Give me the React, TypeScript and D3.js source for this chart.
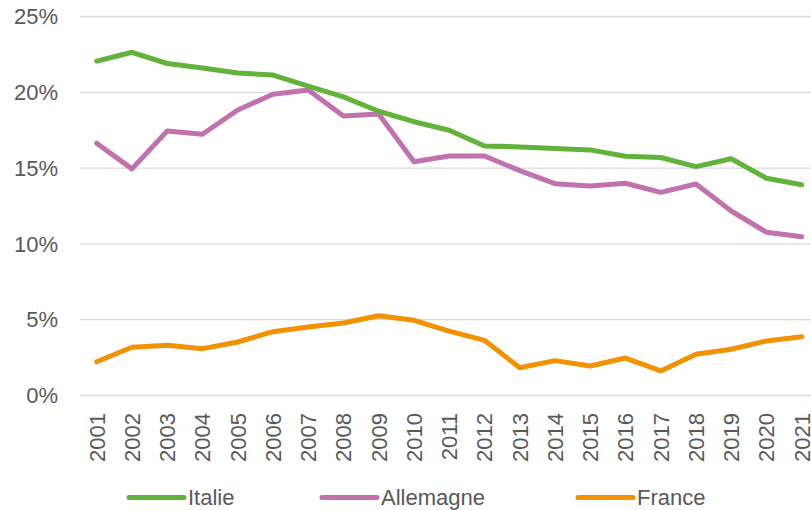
import * as d3 from 'd3';
import React, { useRef, useEffect } from 'react';

// years on the category axis
const years = [
    '2001', '2002', '2003', '2004', '2005', '2006', '2007', '2008', '2009', '2010', '2011',
    '2012', '2013', '2014', '2015', '2016', '2017', '2018', '2019', '2020', '2021'
];

// shares in percent
const italie = [
    22.06, 22.64, 21.9, 21.6, 21.27, 21.14, 20.4, 19.7, 18.75, 18.06, 17.5,
    16.46, 16.4, 16.3, 16.2, 15.78, 15.7, 15.1, 15.62, 14.33, 13.9
];
const allemagne = [
    16.64, 14.95, 17.45, 17.23, 18.83, 19.87, 20.15, 18.44, 18.57, 15.42, 15.8,
    15.8, 14.83, 13.97, 13.82, 14.0, 13.4, 13.95, 12.17, 10.77, 10.47
];
const france = [
    2.23, 3.18, 3.31, 3.09, 3.53, 4.21, 4.52, 4.78, 5.26, 4.96, 4.25,
    3.64, 1.83, 2.3, 1.95, 2.47, 1.62, 2.72, 3.05, 3.6, 3.88
];

const yTicks = [0, 5, 10, 15, 20, 25];

const seriesNames = ['Italie', 'Allemagne', 'France'];
const seriesColors = ['#62B33A', '#C071AE', '#F39200'];

const App = () => {
    const svgRef = useRef<SVGSVGElement>(null);

    useEffect(() => {
        const font = '"Liberation Sans", Arial, sans-serif';
        const textColor = '#595959';

        const svg = d3.select(svgRef.current);
        svg.selectAll('*').remove();

        const x = d3.scalePoint<string>()
            .domain(years)
            .range([96.7, 801.7]);

        const y = d3.scaleLinear()
            .domain([0, 25])
            .range([395.5, 16.5]);

        // horizontal gridlines
        svg.append('g')
            .selectAll('line')
            .data(yTicks)
            .enter().append('line')
            .attr('x1', 80)
            .attr('x2', 811)
            .attr('y1', (d) => y(d))
            .attr('y2', (d) => y(d))
            .attr('stroke', '#d9d9d9')
            .attr('stroke-width', 1.3);

        // y tick labels
        svg.append('g')
            .selectAll('text')
            .data(yTicks)
            .enter().append('text')
            .attr('x', 58)
            .attr('y', (d) => y(d))
            .attr('dy', '0.35em')
            .attr('text-anchor', 'end')
            .style('font-family', font)
            .style('font-size', '22px')
            .style('fill', textColor)
            .text((d) => `${d}%`);

        // year labels, rotated
        svg.append('g')
            .selectAll('text')
            .data(years)
            .enter().append('text')
            .attr('transform', (d) => `translate(${(x(d) as number) + 8}, 413) rotate(-90)`)
            .attr('text-anchor', 'end')
            .style('font-family', font)
            .style('font-size', '22px')
            .style('fill', textColor)
            .text((d) => d);

        const line = d3.line<number>()
            .x((d, i) => x(years[i]) as number)
            .y((d) => y(d));

        const allSeries = [italie, allemagne, france];

        // France underneath, then purple, green on top
        [2, 1, 0].forEach((k) => {
            svg.append('path')
                .datum(allSeries[k])
                .attr('d', line)
                .attr('fill', 'none')
                .attr('stroke', seriesColors[k])
                .attr('stroke-width', 5)
                .attr('stroke-linejoin', 'round')
                .attr('stroke-linecap', 'round');
        });

        // legend
        const legendX = [129, 322, 578];
        const legend = svg.append('g')
            .selectAll('g')
            .data(seriesNames)
            .enter().append('g')
            .attr('transform', (d, i) => `translate(${legendX[i]}, 497.5)`);

        legend.append('line')
            .attr('x1', 0)
            .attr('x2', 55)
            .attr('stroke', (d, i) => seriesColors[i])
            .attr('stroke-width', 5)
            .attr('stroke-linecap', 'round');

        legend.append('text')
            .attr('x', 59)
            .attr('dy', '0.35em')
            .style('font-family', font)
            .style('font-size', '22px')
            .style('fill', textColor)
            .text((d) => d);
    }, []);

    return (
        <svg
            ref={svgRef}
            width={811}
            height={510}
            style={{ position: 'absolute', left: 0, top: 0, background: '#fff' }}
        ></svg>
    );
};

export default App;
